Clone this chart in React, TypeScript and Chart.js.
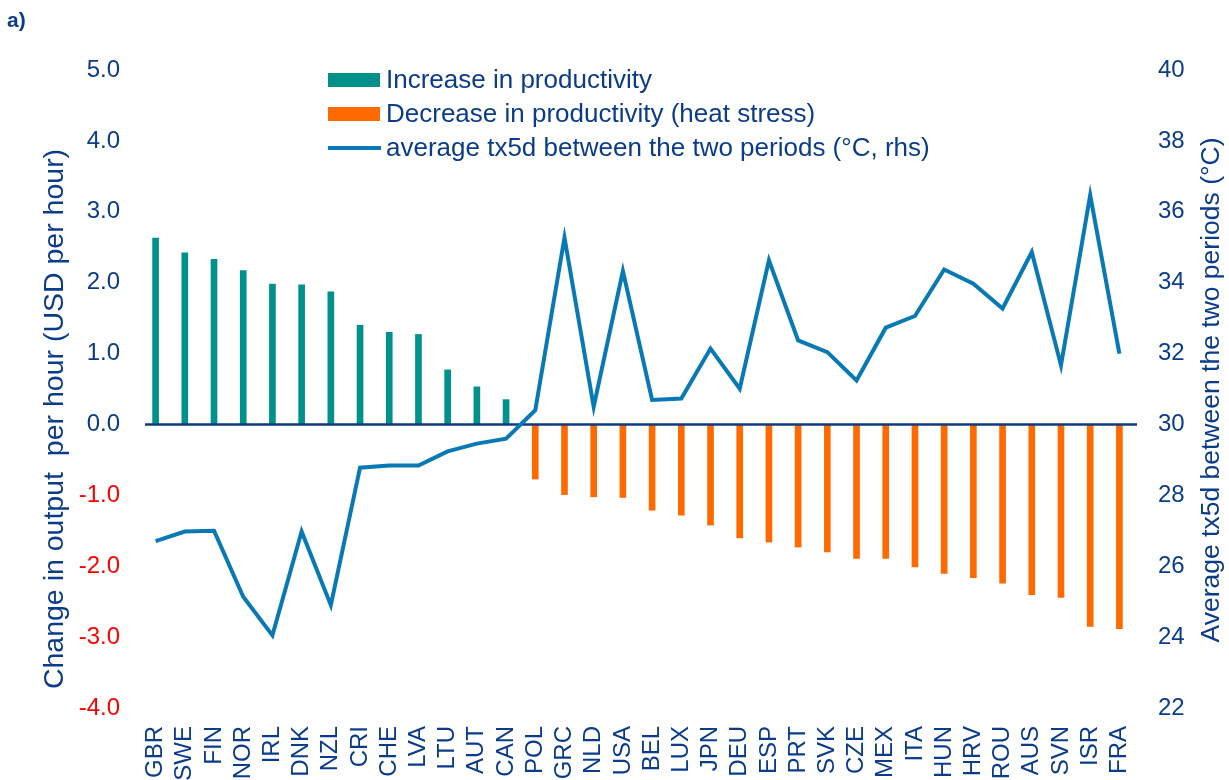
import React, { useEffect, useRef } from "react";
import { Chart, registerables } from "chart.js";

Chart.register(...registerables);

const countries = ["GBR","SWE","FIN","NOR","IRL","DNK","NZL","CRI","CHE","LVA","LTU","AUT","CAN","POL","GRC","NLD","USA","BEL","LUX","JPN","DEU","ESP","PRT","SVK","CZE","MEX","ITA","HUN","HRV","ROU","AUS","SVN","ISR","FRA"];

const productivityChange = [2.63, 2.42, 2.33, 2.17, 1.98, 1.97, 1.87, 1.40, 1.30, 1.27, 0.77, 0.53, 0.35, -0.77, -0.99, -1.02, -1.03, -1.21, -1.28, -1.42, -1.60, -1.66, -1.73, -1.80, -1.89, -1.89, -2.01, -2.10, -2.16, -2.24, -2.40, -2.44, -2.85, -2.88];

const tx5d = [26.71, 26.98, 27.0, 25.14, 24.05, 26.98, 24.90, 28.78, 28.84, 28.84, 29.24, 29.46, 29.60, 30.40, 35.27, 30.50, 34.33, 30.69, 30.73, 32.14, 31.01, 34.63, 32.37, 32.04, 31.24, 32.73, 33.06, 34.37, 33.97, 33.27, 34.86, 31.67, 36.47, 32.0];

const seriesLabels = ["Increase in productivity", "Decrease in productivity (heat stress)", "average tx5d between the two periods (°C, rhs)"];
const leftTitle = "Change in output  per hour (USD per hour)";
const rightTitle = "Average tx5d between the two periods (°C)";
const panelLabel = "a)";

const FONT = '"Liberation Sans", Arial, sans-serif';
const NAVY = "#0B3C8A";
const RED = "#FF0000";
const TEAL = "#00928A";
const ORANGE = "#FF6A00";
const LINE = "#0879B5";

export default function App() {
  const ref = useRef<HTMLCanvasElement | null>(null);

  useEffect(() => {
    const canvas = ref.current;
    if (!canvas) return;

    const increase = productivityChange.map((v) => (v >= 0 ? v : null));
    const decrease = productivityChange.map((v) => (v < 0 ? v : null));

    const overlay = {
      id: "overlay",
      afterDatasetDraw(chart: any, args: any) {
        if (args.index !== 1) return;
        const { ctx, chartArea } = chart;
        const y = chart.scales.y.getPixelForValue(0);
        ctx.save();
        ctx.strokeStyle = "#0E3B7C";
        ctx.lineWidth = 2.5;
        ctx.beginPath();
        ctx.moveTo(chartArea.left + 4, y);
        ctx.lineTo(chartArea.right + 3, y);
        ctx.stroke();
        ctx.restore();
      },
      afterDraw(chart: any) {
        const { ctx } = chart;
        ctx.save();
        // panel label
        ctx.fillStyle = NAVY;
        ctx.font = `bold 21px ${FONT}`;
        ctx.textAlign = "left";
        ctx.textBaseline = "middle";
        ctx.fillText(panelLabel, 7, 21);

        // axis titles
        ctx.textAlign = "center";
        ctx.font = `28.5px ${FONT}`;
        ctx.save();
        ctx.translate(55, 419);
        ctx.rotate(-Math.PI / 2);
        ctx.fillText(leftTitle, 0, 0);
        ctx.restore();
        ctx.font = `26.5px ${FONT}`;
        ctx.save();
        ctx.translate(1212, 390);
        ctx.rotate(-Math.PI / 2);
        ctx.fillText(rightTitle, 0, 0);
        ctx.restore();

        // legend
        const ds = chart.data.datasets;
        const rows = [80, 114, 148];
        ctx.font = `26px ${FONT}`;
        ctx.textAlign = "left";
        ds.forEach((d: any, i: number) => {
          const y = rows[i];
          if (d.type === "line") {
            ctx.strokeStyle = d.borderColor;
            ctx.lineWidth = 4;
            ctx.beginPath();
            ctx.moveTo(328, y);
            ctx.lineTo(381, y);
            ctx.stroke();
          } else {
            ctx.fillStyle = d.backgroundColor;
            ctx.fillRect(328, y - 7, 52, 14);
          }
          ctx.fillStyle = NAVY;
          ctx.fillText(d.label, 386, y + 1);
        });
        ctx.restore();
      },
    };

    const chart = new Chart(canvas, {
      type: "bar",
      data: {
        labels: countries,
        datasets: [
          { type: "bar", label: seriesLabels[0], data: increase as any, backgroundColor: TEAL, yAxisID: "y", barThickness: 6, order: 2 },
          { type: "bar", label: seriesLabels[1], data: decrease as any, backgroundColor: ORANGE, yAxisID: "y", barThickness: 6, order: 1 },
          { type: "line", label: seriesLabels[2], data: tx5d, borderColor: LINE, backgroundColor: LINE, borderWidth: 4, pointRadius: 0, tension: 0, yAxisID: "y1", order: 0 } as any,
        ],
      },
      options: {
        responsive: false,
        animation: false,
        layout: { padding: { top: 70, left: 0, right: 0, bottom: 0 } },
        plugins: { legend: { display: false }, tooltip: { enabled: false } },
        scales: {
          x: {
            stacked: true,
            grid: { display: false, drawTicks: false },
            border: { display: false },
            ticks: { autoSkip: false, maxRotation: 90, minRotation: 90, padding: 18, color: NAVY, font: { family: FONT, size: 24 } },
            afterFit(s: any) { s.height = 72; },
          },
          y: {
            stacked: true,
            position: "left",
            min: -4,
            max: 5,
            grid: { display: false, drawTicks: false },
            border: { display: false },
            ticks: {
              stepSize: 1,
              padding: 21,
              font: { family: FONT, size: 24 },
              color: (c: any) => (c.tick && c.tick.value < 0 ? RED : NAVY),
              callback: (v: any) => Number(v).toFixed(1),
            },
            afterFit(s: any) { s.width = 141; },
          },
          y1: {
            position: "right",
            min: 22,
            max: 40,
            grid: { display: false, drawTicks: false },
            border: { display: false },
            ticks: { stepSize: 2, padding: 24, color: NAVY, font: { family: FONT, size: 24 } },
            afterFit(s: any) { s.width = 95; },
          },
        },
      },
      plugins: [overlay],
    } as any);

    return () => chart.destroy();
  }, []);

  return (
    <div style={{ position: "absolute", left: 0, top: 0, width: 1229, height: 780, background: "#fff" }}>
      <canvas ref={ref} width={1229} height={780} style={{ display: "block" }} />
    </div>
  );
}
